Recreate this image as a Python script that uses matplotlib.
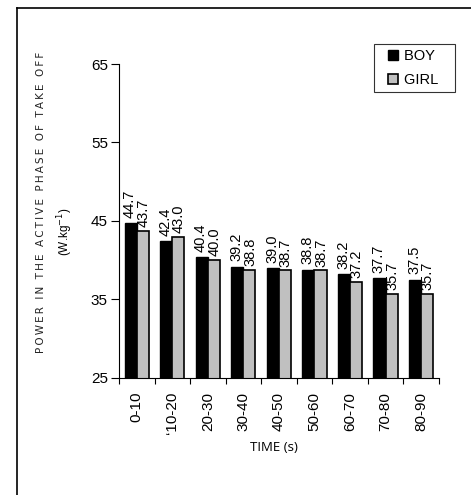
import numpy as np
import matplotlib.pyplot as plt
from matplotlib.lines import Line2D

plt.rcParams['font.family'] = ['Liberation Sans', 'DejaVu Sans']

# Data
groups = ['0-10', '\u201810-20', '20-30', '30-40', '40-50', '50-60', '60-70', '70-80', '80-90']
boy = [44.7, 42.4, 40.4, 39.2, 39.0, 38.8, 38.2, 37.7, 37.5]
girl = [43.7, 43.0, 40.0, 38.8, 38.7, 38.7, 37.2, 35.7, 35.7]
yticks = [25, 35, 45, 55, 65]

fig = plt.figure(figsize=(4.71, 4.95), dpi=100)
ax = fig.add_axes([0.2527, 0.2364, 0.679, 0.6343])

x = np.arange(len(groups))
w = 0.34
ax.bar(x - w/2, boy, w, color='black', edgecolor='black', linewidth=1, label='BOY')
ax.bar(x + w/2, girl, w, color='#c0c0c0', edgecolor='black', linewidth=1.2, label='GIRL')

for xi, v in zip(x - w/2, boy):
    ax.text(xi - 0.02, v + 0.7, f'{v:.1f}', rotation=90, ha='center', va='bottom', fontsize=10.5)
for xi, v in zip(x + w/2, girl):
    ax.text(xi + 0.02, v + 0.5, f'{v:.1f}', rotation=90, ha='center', va='bottom', fontsize=10.5)

ax.set_xlim(-0.5, len(groups) - 0.5)
ax.set_ylim(25, 65)
ax.set_yticks(yticks)
ax.tick_params(axis='y', labelsize=11, length=6, width=0.8, pad=2)
ax.set_xticks(x, groups, rotation=90)
ax.set_xticks(np.arange(len(groups) + 1) - 0.5, minor=True)
ax.tick_params(axis='x', which='major', length=0, pad=10, labelsize=11)
ax.tick_params(axis='x', which='minor', length=4, width=0.8)

ax.spines['top'].set_visible(False)
ax.spines['right'].set_visible(False)
ax.spines['left'].set_linewidth(0.8)
ax.spines['bottom'].set_linewidth(0.8)

fig.text(0.582, 0.095, 'TIME (s)', ha='center', va='center',
         fontsize=9.5, family=['Open Sans', 'DejaVu Sans'])
ylab = 'POWER IN THE ACTIVE PHASE OF TAKE OFF'
ylab = '\u2009'.join(ylab)
fig.text(0.087, 0.592, ylab, rotation=90, ha='center', va='center',
         fontsize=7.5, family=['DejaVu Sans'], color='#222222')
fig.text(0.138, 0.531, '(W.kg$^{-1}$)', rotation=90, ha='center', va='center', fontsize=8.5)

handles = [Line2D([], [], ls='none', marker='s', markersize=6.5, markerfacecolor='black',
                  markeredgecolor='black'),
           Line2D([], [], ls='none', marker='s', markersize=6.5, markerfacecolor='#c0c0c0',
                  markeredgecolor='black', markeredgewidth=1.2)]
leg = ax.legend(handles, ['BOY   ', 'GIRL   '], loc='upper right', bbox_to_anchor=(1.05, 1.064),
                borderaxespad=0, fontsize=10.5, frameon=True, fancybox=False,
                handlelength=1.85, handletextpad=-0.2,
                borderpad=0.35, labelspacing=0.7)
leg.get_frame().set_edgecolor('black')
leg.get_frame().set_linewidth(0.8)

# outer frame (left and top edges visible)
fig.add_artist(Line2D([0.037, 0.037], [0.0, 0.984], color='black', lw=1.2, transform=fig.transFigure))
fig.add_artist(Line2D([0.037, 1.0], [0.984, 0.984], color='black', lw=1.2, transform=fig.transFigure))

fig.savefig('out.png', dpi=100)
